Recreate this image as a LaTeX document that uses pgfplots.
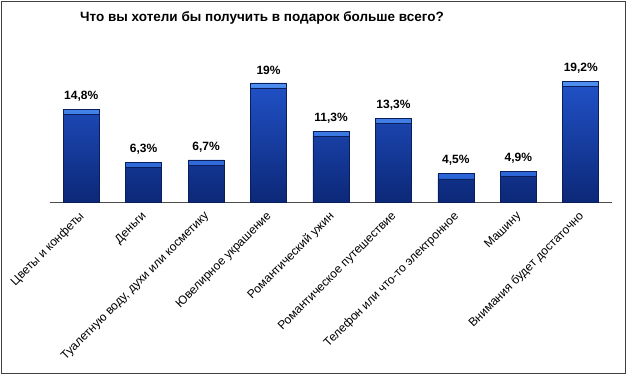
\documentclass[border=0pt]{standalone}
\usepackage{pgfplots}
\pgfplotsset{compat=1.18}
\usepackage{pgfplotstable}
\usepackage{fontspec}
\setmainfont{Liberation Sans}
\definecolor{bartop}{HTML}{2050C4}
\definecolor{barbot}{HTML}{0C2878}
\definecolor{baredge}{HTML}{0A1E5C}
\definecolor{hltop}{HTML}{4F8FF0}
\definecolor{hlbot}{HTML}{2A63D6}
\pgfplotstableread{
x v lbl
0 14.8 {14,8\%}
1 6.3 {6,3\%}
2 6.7 {6,7\%}
3 19 {19\%}
4 11.3 {11,3\%}
5 13.3 {13,3\%}
6 4.5 {4,5\%}
7 4.9 {4,9\%}
8 19.2 {19,2\%}
}\data
\begin{document}
\begin{tikzpicture}[x=1pt,y=1pt]
\path[use as bounding box] (0pt,0pt) rectangle (627pt,-375pt);
\draw[color=black!75, line width=1.6pt] (1.5pt,-1.5pt) rectangle (625.5pt,-373.5pt);
\node[font=\bfseries\fontsize{13.5}{15}\selectfont] at (262pt,-18pt) {Что вы хотели бы получить в подарок больше всего?};
\begin{axis}[
  at={(50pt,-202pt)}, anchor=south west, scale only axis,
  width=562pt, height=125.4pt,
  xmin=-0.5, xmax=8.5, ymin=0, ymax=20,
  ybar stacked, bar width=36pt,
  axis y line=none, axis x line*=bottom,
  x axis line style={-, draw=black!70, line width=1pt},
  xtick={0,...,8}, major tick length=0pt,
  xticklabels={Цветы и конфеты, Деньги, {Туалетную воду, духи или косметику}, Ювелирное украшение, Романтический ужин, Романтическое путешествие, Телефон или что-то электронное, Машину, Внимания будет достаточно},
  xticklabel style={rotate=45, anchor=north east, font=\fontsize{12}{14}\selectfont, inner sep=1pt, xshift=-7pt, yshift=-3pt},
  enlargelimits=false, clip=false,
]
\addplot[draw=baredge, line width=0.6pt, top color=bartop, bottom color=barbot] table[x=x, y expr=\thisrow{v}-0.8] {\data};
\addplot[draw=baredge, line width=0.6pt, top color=hltop, bottom color=hlbot,
  nodes near coords, point meta=explicit symbolic,
  every node near coord/.append style={font=\bfseries\fontsize{12}{14}\selectfont, text=black, anchor=south, yshift=7pt}]
  table[x=x, y expr=0.8, meta=lbl] {\data};
\end{axis}
\end{tikzpicture}
\end{document}
